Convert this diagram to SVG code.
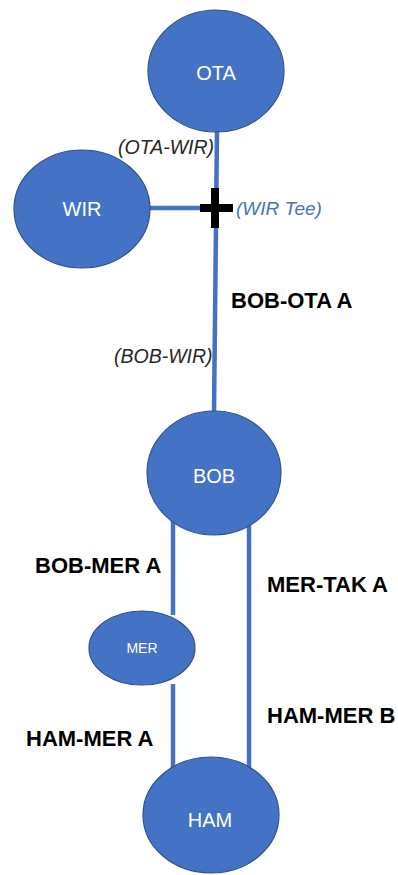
<svg xmlns="http://www.w3.org/2000/svg" width="398" height="875" viewBox="0 0 398 875">
<style>
.node{fill:#4472C4;stroke:#2F528F;stroke-width:1.2}
.nt{fill:#fff;font-family:"Liberation Sans",Arial,sans-serif;text-anchor:middle}
.ln{stroke:#4472C4;stroke-width:4.5;fill:none}
.lb{font-family:"Liberation Sans",Arial,sans-serif;font-weight:bold;font-size:22px;fill:#000}
.it{font-family:"Liberation Sans",Arial,sans-serif;font-style:italic;font-size:19.5px;fill:#262626}
</style>
<rect width="398" height="875" fill="#fff"/>
<g id="connectors">
<line class="ln" x1="217" y1="130" x2="214" y2="413"/>
<line class="ln" x1="148" y1="208" x2="216" y2="208"/>
<line class="ln" x1="173" y1="520" x2="173" y2="615"/>
<line class="ln" x1="173" y1="684" x2="173" y2="769"/>
<line class="ln" x1="249" y1="520" x2="249" y2="770"/>
</g>
<g id="tee">
<rect x="211" y="188" width="8" height="40" fill="#000"/>
<rect x="200" y="204" width="33" height="8" fill="#000"/>
<text x="236" y="215" font-family="Liberation Sans,Arial,sans-serif" font-style="italic" font-size="19" fill="#4472C4">(WIR Tee)</text>
</g>
<g id="OTA">
<ellipse class="node" cx="216" cy="71" rx="68" ry="61"/>
<text class="nt" x="216" y="80" font-size="20">OTA</text>
</g>
<g id="WIR">
<ellipse class="node" cx="82" cy="209" rx="68" ry="59"/>
<text class="nt" x="82" y="216" font-size="20">WIR</text>
</g>
<g id="BOB">
<ellipse class="node" cx="214" cy="473" rx="67" ry="62"/>
<text class="nt" x="214" y="483" font-size="20">BOB</text>
</g>
<g id="MER">
<ellipse class="node" cx="142" cy="648" rx="53" ry="37"/>
<text class="nt" x="142" y="653" font-size="14">MER</text>
</g>
<g id="HAM">
<ellipse class="node" cx="211" cy="815" rx="68" ry="58"/>
<text class="nt" x="210" y="827" font-size="20">HAM</text>
</g>
<g id="labels">
<text class="it" x="118" y="154">(OTA-WIR)</text>
<text class="it" x="114" y="363">(BOB-WIR)</text>
<text class="lb" x="231" y="308">BOB-OTA A</text>
<text class="lb" x="35" y="573">BOB-MER A</text>
<text class="lb" x="267" y="592">MER-TAK A</text>
<text class="lb" x="267" y="723">HAM-MER B</text>
<text class="lb" x="26" y="746">HAM-MER A</text>
</g>
</svg>
